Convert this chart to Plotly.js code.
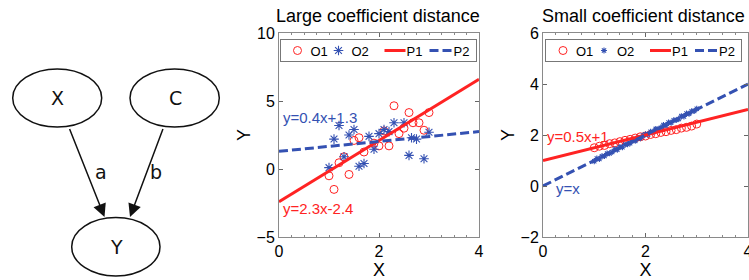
<!DOCTYPE html>
<html>
<head>
<meta charset="utf-8">
<script src="https://cdn.plot.ly/plotly-3.0.1.min.js"></script>
<style>
html,body{margin:0;padding:0;background:#fff;overflow:hidden;}
#chart{width:749px;height:280px;}
</style>
</head>
<body>
<div id="chart"></div>
<script>
// ---- Data: left panel "Large coefficient distance" ----
var largeO1X = [2.3, 2.6, 3.0, 2.8, 2.68, 2.9, 2.5, 2.4, 2.1, 1.6, 1.5, 1.9, 2.0, 2.2, 1.7, 1.2, 1.3, 1.0, 1.4, 1.1];
var largeO1Y = [4.65, 4.15, 4.15, 3.4, 3.4, 2.85, 3.0, 2.6, 2.8, 2.3, 2.1, 1.9, 1.7, 1.7, 1.25, 0.46, 0.9, -0.5, -0.4, -1.5];
var largeO2X = [1.2, 1.5, 1.4, 1.1, 1.8, 2.0, 2.1, 2.3, 2.5, 2.2, 2.75, 2.65, 1.9, 1.3, 1.7, 1.6, 2.6, 2.9, 1.0, 3.0];
var largeO2Y = [3.2, 2.9, 2.5, 2.2, 2.4, 2.6, 2.9, 3.4, 3.4, 2.75, 2.2, 2.3, 1.45, 0.9, 0.4, 0.2, 1.0, 0.75, 0.1, 2.7];
var largeLineX = [0, 4];
var largeP1Y = [-2.4, 6.6];
var largeP2Y = [1.3, 2.75];
var largeP1Label = 'y=2.3x-2.4';
var largeP2Label = 'y=0.4x+1.3';

// ---- Data: right panel "Small coefficient distance" ----
var smallO1X = [1.0, 1.1, 1.2, 1.3, 1.4, 1.5, 1.6, 1.7, 1.8, 1.9, 2.0, 2.1, 2.2, 2.3, 2.4, 2.5, 2.6, 2.7, 2.8, 2.9, 3.0];
var smallO1Y = [1.50, 1.56, 1.59, 1.66, 1.69, 1.74, 1.79, 1.83, 1.88, 1.93, 1.96, 2.02, 2.05, 2.10, 2.13, 2.18, 2.21, 2.27, 2.30, 2.35, 2.43];
var smallO2X = [1.00, 1.05, 1.10, 1.15, 1.20, 1.25, 1.30, 1.35, 1.40, 1.45, 1.50, 1.55, 1.60, 1.65, 1.70, 1.75, 1.80, 1.85, 1.90, 1.95, 2.00,
                2.05, 2.10, 2.15, 2.20, 2.25, 2.30, 2.35, 2.40, 2.45, 2.50, 2.55, 2.60, 2.65, 2.70, 2.75, 2.80, 2.85, 2.90, 2.95, 3.00];
var smallO2Y = [0.97, 1.08, 1.06, 1.17, 1.18, 1.27, 1.28, 1.33, 1.44, 1.42, 1.53, 1.52, 1.63, 1.64, 1.68, 1.79, 1.77, 1.88, 1.87, 1.98, 2.03,
                2.02, 2.13, 2.12, 2.24, 2.23, 2.28, 2.39, 2.37, 2.49, 2.48, 2.58, 2.59, 2.63, 2.74, 2.73, 2.84, 2.83, 2.93, 2.94, 3.03];
var smallLineX = [0, 4];
var smallP1Y = [1, 3];
var smallP2Y = [0, 4];
var smallP1Label = 'y=0.5x+1';
var smallP2Label = 'y=x';

var seriesNames = ['O1', 'O2', 'P1', 'P2'];
var panelTitles = ['Large coefficient distance', 'Small coefficient distance'];

// ---- Data: causal diagram ----
var nodeLabels = ['X', 'C', 'Y'];
var edgeLabels = ['a', 'b'];

var RED = '#ff2323';
var BLUE = '#3451b2';
var FONT = 'Liberation Sans, Arial, sans-serif';
var W = 749, H = 280;

function panelTraces(xa, ya, legendId, o1x, o1y, o2x, o2y, lx, p1y, p2y, starSize, circSize) {
  return [
    {x: o1x, y: o1y, xaxis: xa, yaxis: ya, legend: legendId, name: seriesNames[0], type: 'scatter', mode: 'markers',
     marker: {symbol: 'circle-open', size: circSize, color: RED, line: {width: 1, color: RED}}},
    {x: o2x, y: o2y, xaxis: xa, yaxis: ya, legend: legendId, name: seriesNames[1], type: 'scatter', mode: 'markers',
     marker: {symbol: 'asterisk-open', size: starSize, color: BLUE, line: {width: 1.1, color: BLUE}}},
    {x: lx, y: p1y, xaxis: xa, yaxis: ya, legend: legendId, name: seriesNames[2], type: 'scatter', mode: 'lines',
     line: {color: RED, width: 3}},
    {x: lx, y: p2y, xaxis: xa, yaxis: ya, legend: legendId, name: seriesNames[3], type: 'scatter', mode: 'lines',
     line: {color: BLUE, width: 3, dash: '9px,4px'}}
  ];
}

var traces = [].concat(
  panelTraces('x', 'y', 'legend', largeO1X, largeO1Y, largeO2X, largeO2Y, largeLineX, largeP1Y, largeP2Y, 8, 8),
  panelTraces('x2', 'y2', 'legend2', smallO1X, smallO1Y, smallO2X, smallO2Y, smallLineX, smallP1Y, smallP2Y, 5, 8)
);

function xAxis(domain, anchor) {
  return {domain: domain, anchor: anchor, range: [0, 4], dtick: 2, tick0: 0, automargin: false,
    ticks: 'inside', ticklen: 4, tickcolor: '#666', showline: true, linecolor: '#8a8a8a', linewidth: 1,
    mirror: 'ticks', showgrid: false, zeroline: false, ticklabeloverflow: 'allow',
    minor: {ticks: 'inside', ticklen: 2, dtick: 0.25, tickcolor: '#888', showgrid: false},
    tickfont: {family: FONT, size: 16, color: '#000'},
    title: {text: 'X', font: {family: FONT, size: 18, color: '#000'}, standoff: 0}};
}
function yAxis(domain, anchor, range, dtick) {
  return {domain: domain, anchor: anchor, range: range, dtick: dtick, automargin: false,
    ticks: 'inside', ticklen: 4, tickcolor: '#666', showline: true, linecolor: '#8a8a8a', linewidth: 1,
    mirror: 'ticks', showgrid: false, zeroline: false, ticklabeloverflow: 'allow',
    tickfont: {family: FONT, size: 16, color: '#000'},
    title: {text: 'Y', font: {family: FONT, size: 18, color: '#000'}, standoff: 1}};
}

var yDom = [1 - 237 / H, 1 - 33 / H];

var shapes = [
  {type: 'circle', xref: 'x3', yref: 'y3', x0: 12.7, x1: 101.7, y0: 69, y1: 127, line: {color: '#111', width: 1.5}},
  {type: 'circle', xref: 'x3', yref: 'y3', x0: 130, x1: 219.3, y0: 69, y1: 127, line: {color: '#111', width: 1.5}},
  {type: 'circle', xref: 'x3', yref: 'y3', x0: 71.7, x1: 160, y0: 217.5, y1: 276, line: {color: '#111', width: 1.5}}
];

var annFont = {family: 'DejaVu Sans, sans-serif', size: 19, color: '#111'};
var annotations = [
  {xref: 'x3', yref: 'y3', x: 57, y: 98, text: nodeLabels[0], showarrow: false, font: annFont},
  {xref: 'x3', yref: 'y3', x: 175, y: 98, text: nodeLabels[1], showarrow: false, font: annFont},
  {xref: 'x3', yref: 'y3', x: 116, y: 247, text: nodeLabels[2], showarrow: false, font: annFont},
  {xref: 'x3', yref: 'y3', x: 101, y: 172, text: edgeLabels[0], showarrow: false, font: annFont},
  {xref: 'x3', yref: 'y3', x: 156, y: 172, text: edgeLabels[1], showarrow: false, font: annFont},
  {xref: 'x3', yref: 'y3', axref: 'x3', ayref: 'y3', x: 104.5, y: 217, ax: 69, ay: 127.5, text: '',
   showarrow: true, arrowhead: 2, arrowsize: 1.75, arrowwidth: 1.5, arrowcolor: '#111', standoff: 0, startstandoff: 0},
  {xref: 'x3', yref: 'y3', axref: 'x3', ayref: 'y3', x: 130, y: 217, ax: 163.5, ay: 127.5, text: '',
   showarrow: true, arrowhead: 2, arrowsize: 1.75, arrowwidth: 1.5, arrowcolor: '#111', standoff: 0, startstandoff: 0},
  {xref: 'paper', yref: 'paper', x: 378 / W, y: 1 - 16 / H, xanchor: 'center', yanchor: 'middle', showarrow: false,
   text: panelTitles[0], font: {family: FONT, size: 18, color: '#000'}},
  {xref: 'paper', yref: 'paper', x: 643 / W, y: 1 - 16 / H, xanchor: 'center', yanchor: 'middle', showarrow: false,
   text: panelTitles[1], font: {family: FONT, size: 18, color: '#000'}},
  {xref: 'x', yref: 'y', x: 0.04, y: 3.8, xanchor: 'left', yanchor: 'middle', showarrow: false,
   text: largeP2Label, font: {family: FONT, size: 15, color: BLUE}},
  {xref: 'x', yref: 'y', x: 0.04, y: -2.87, xanchor: 'left', yanchor: 'middle', showarrow: false,
   text: largeP1Label, font: {family: FONT, size: 15, color: RED}},
  {xref: 'x2', yref: 'y2', x: 0.04, y: 1.95, xanchor: 'left', yanchor: 'middle', showarrow: false,
   text: smallP1Label, font: {family: FONT, size: 15, color: RED}},
  {xref: 'x2', yref: 'y2', x: 0.22, y: -0.1, xanchor: 'left', yanchor: 'middle', showarrow: false,
   text: smallP2Label, font: {family: FONT, size: 15, color: BLUE}}
];

function legendOpts(xpx) {
  return {x: xpx / W, y: 1 - 39 / H, xanchor: 'left', yanchor: 'top', orientation: 'h',
    bgcolor: '#fff', bordercolor: '#777', borderwidth: 1, entrywidth: 5,
    font: {family: FONT, size: 13, color: '#000'}, itemwidth: 30, tracegroupgap: 0};
}

var legendPos = {legend: [279.5, 39], legend2: [545, 39]};

var layout = {
  width: W, height: H, autosize: false,
  margin: {l: 0, r: 0, t: 0, b: 0, pad: 0},
  paper_bgcolor: '#fff', plot_bgcolor: '#fff',
  showlegend: true,
  legend: legendOpts(279.5),
  legend2: legendOpts(500),
  xaxis: xAxis([279 / W, 479 / W], 'y'),
  yaxis: yAxis(yDom, 'x', [-5, 10], 5),
  xaxis2: xAxis([543 / W, 748 / W], 'y2'),
  yaxis2: yAxis(yDom, 'x2', [-2, 6], 2),
  xaxis3: {domain: [0, 240 / W], range: [0, 240], visible: false, fixedrange: true},
  yaxis3: {domain: [0, 1], range: [280, 0], visible: false, fixedrange: true, anchor: 'x3'},
  shapes: shapes,
  annotations: annotations
};

// compact legend item placement like the reference (legend-local px)
var legendSpec = [
  {m: 17, t: 30},
  {m: 58, t: 71},
  {l0: 104, l1: 125, t: 126},
  {l0: 149, l1: 171, t: 173}
];
var legendWidth = 197, legendHeight = 23;

function compactLegends(gd) {
  ['legend', 'legend2'].forEach(function (id) {
    var g = gd.querySelector('g.' + id);
    if (!g) return;
    g.setAttribute('transform', 'translate(' + legendPos[id][0] + ',' + legendPos[id][1] + ')');
    var items = g.querySelectorAll('g.traces');
    items.forEach(function (it, i) {
      var spec = legendSpec[i];
      if (!spec) return;
      it.setAttribute('transform', 'translate(1,' + (legendHeight / 2) + ')');
      it.querySelectorAll('text').forEach(function (txt) {
        txt.setAttribute('x', spec.t);
        txt.querySelectorAll('tspan').forEach(function (ts) { if (ts.hasAttribute('x')) ts.setAttribute('x', spec.t); });
      });
      it.querySelectorAll('path.scatterpts').forEach(function (p) { p.setAttribute('transform', 'translate(' + spec.m + ',0)'); });
      it.querySelectorAll('path.js-line').forEach(function (p) { p.setAttribute('d', 'M' + spec.l0 + ',0h' + (spec.l1 - spec.l0)); });
    });
    var bg = g.querySelector('rect.bg');
    if (bg) { bg.setAttribute('width', legendWidth - 1); bg.setAttribute('height', legendHeight - 1); }
    var sb = g.querySelector('g.scrollbox');
    if (sb) sb.setAttribute('transform', 'translate(0,0)');
  });
}

Plotly.newPlot('chart', traces, layout, {staticPlot: true, displayModeBar: false}).then(function (gd) {
  compactLegends(gd);
  gd.on && gd.on('plotly_afterplot', function () { compactLegends(gd); });
  setTimeout(function () { compactLegends(gd); }, 50);
});
</script>
</body>
</html>
